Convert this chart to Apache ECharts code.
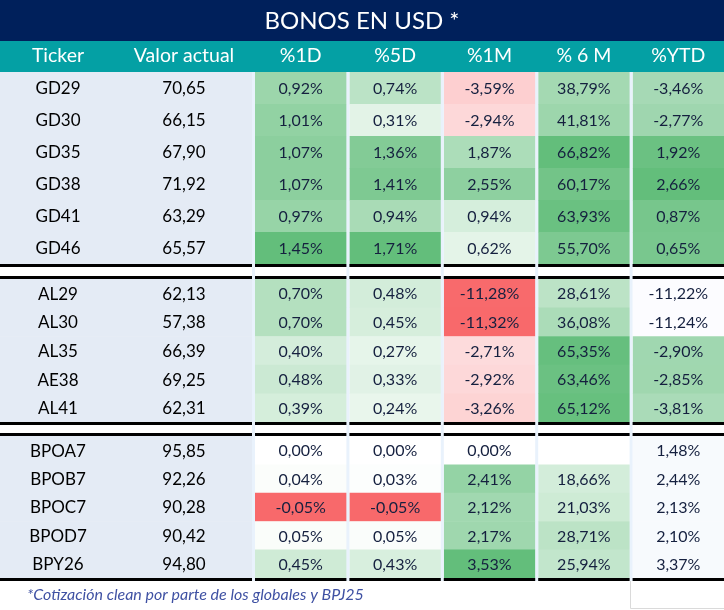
<!DOCTYPE html>
<html>
<head>
<meta charset="utf-8">
<script src="https://cdn.jsdelivr.net/npm/echarts@6/dist/echarts.min.js"></script>
<style>html,body{margin:0;padding:0;background:#fff}#c{width:724px;height:610px}</style>
</head>
<body>
<div id="c"></div>
<script>
// ---- data ----
const titleText = 'BONOS EN USD *';
const footnote = '*Cotización clean por parte de los globales y BPJ25';
const headers = ['Ticker', 'Valor actual', '%1D', '%5D', '%1M', '% 6 M', '%YTD'];
const tickers = ['GD29','GD30','GD35','GD38','GD41','GD46',
                 'AL29','AL30','AL35','AE38','AL41',
                 'BPOA7','BPOB7','BPOC7','BPOD7','BPY26'];
const groupSizes = [6, 5, 5];
const valorActual = [70.65,66.15,67.90,71.92,63.29,65.57, 62.13,57.38,66.39,69.25,62.31, 95.85,92.26,90.28,90.42,94.80];
const pct1D  = [0.92,1.01,1.07,1.07,0.97,1.45, 0.70,0.70,0.40,0.48,0.39, 0.00,0.04,-0.05,0.05,0.45];
const pct5D  = [0.74,0.31,1.36,1.41,0.94,1.71, 0.48,0.45,0.27,0.33,0.24, 0.00,0.03,-0.05,0.05,0.43];
const pct1M  = [-3.59,-2.94,1.87,2.55,0.94,0.62, -11.28,-11.32,-2.71,-2.92,-3.26, 0.00,2.41,2.12,2.17,3.53];
const pct6M  = [38.79,41.81,66.82,60.17,63.93,55.70, 28.61,36.08,65.35,63.46,65.12, null,18.66,21.03,28.71,25.94];
const pctYTD = [-3.46,-2.77,1.92,2.66,0.87,0.65, -11.22,-11.24,-2.90,-2.85,-3.81, 1.48,2.44,2.13,2.10,3.37];

const pctCols = [pct1D, pct5D, pct1M, pct6M, pctYTD];

// ---- layout / style ----
const W = 724;
const FONT = 'Lato';
const NAVY = '#00205B', TEAL = '#04A0A4', PANEL = '#E4EBF5', SEP = '#E9F2FC';
const RED = [248,105,107], GREEN = [99,190,123], WHITE = [255,255,255], XWHITE = [252,252,255];
const groupBoxes = [{top:72,h:192},{top:279,h:143},{top:436,h:142}];
const tickerBox = {left:0, width:116}, valorBox = {left:116, width:136}, pctBox = {left:252, width:472};
const SEPW = 3;

function mix(a, b, t) {
  t = Math.max(0, Math.min(1, t));
  return 'rgb(' + a.map((v, i) => Math.round(v + (b[i] - v) * t)).join(',') + ')';
}
function colMinMax(arr, n) {
  const v = arr.slice(0, n).filter(x => x !== null);
  return [Math.min(...v), Math.max(...v)];
}
const groupStart = [];
groupSizes.reduce((s, n, i) => { groupStart[i] = s; return s + n; }, 0);

function cellColor(c, idx) {
  const v = pctCols[c][idx];
  if (v === null || v === undefined) return '#FFFFFF';
  if (c === 4) {
    const nFmt = groupSizes[0] + groupSizes[1];
    if (idx >= nFmt) return '#F7FAFD';
    const [mn, mx] = colMinMax(pctYTD, nFmt);
    return mix(XWHITE, GREEN, (v - mn) / (mx - mn));
  }
  const [mn, mx] = colMinMax(pctCols[c], tickers.length);
  if (v < 0) return mix(WHITE, RED, v / mn);
  return mix(WHITE, GREEN, mx > 0 ? v / mx : 0);
}
const fmt = (v, pct) => v === null ? '' : v.toFixed(2).replace('.', ',') + (pct ? '%' : '');

function makeRender(kind, g) {
  return function (params, api) {
    const c = api.value(0), r = api.value(1);
    const idx = groupStart[g] + r;
    const p = api.coord([c, r]);
    const sz = api.size([1, 1]);
    const off = kind === 'pct' ? SEPW : 0;
    const x0 = p[0] - sz[0] / 2 + off, w = sz[0] - off;
    const y0 = p[1] - sz[1] / 2, h = sz[1];
    let fill, text, color, fs;
    if (kind === 'ticker') { fill = PANEL; text = tickers[idx]; color = '#000'; fs = 17; }
    else if (kind === 'valor') { fill = PANEL; text = fmt(valorActual[idx], false); color = '#000'; fs = 17; }
    else { fill = cellColor(c, idx); text = fmt(pctCols[c][idx], true); color = '#15203F'; fs = 16; }
    return {
      type: 'group',
      children: [
        { type: 'rect', shape: { x: x0, y: y0, width: w + 0.5, height: h + 0.5 }, style: { fill: fill } },
        { type: 'text', style: { text: text, x: x0 + w / 2, y: p[1] + 1, align: 'center', verticalAlign: 'middle',
            fill: color, fontSize: fs, fontFamily: FONT } }
      ]
    };
  };
}

const grids = [], xAxes = [], yAxes = [], series = [];
groupBoxes.forEach((gb, g) => {
  const rows = tickers.slice(groupStart[g], groupStart[g] + groupSizes[g]);
  [['ticker', tickerBox, [headers[0]]], ['valor', valorBox, [headers[1]]], ['pct', pctBox, headers.slice(2)]]
    .forEach(([kind, box, cats]) => {
      const gi = grids.length;
      grids.push({ left: box.left, width: box.width, top: gb.top, height: gb.h, show: false });
      xAxes.push({
        type: 'category', gridIndex: gi, data: cats, position: 'top', z: 10,
        axisLine: { show: false }, axisTick: { show: false }, splitLine: { show: false },
        axisLabel: g === 0 ? { show: true, color: '#fff', fontSize: 19.5, fontFamily: FONT, margin: 16,
          verticalAlign: 'middle', interval: 0, padding: kind === 'pct' ? [0, 0, 0, SEPW] : 0 } : { show: false }
      });
      yAxes.push({
        type: 'category', gridIndex: gi, data: rows, inverse: true, show: false,
        axisLine: { show: false }, axisTick: { show: false }, splitLine: { show: false }
      });
      const data = [];
      rows.forEach((_, r) => {
        const nc = kind === 'pct' ? cats.length : 1;
        for (let c = 0; c < nc; c++) data.push([c, r]);
      });
      series.push({
        type: 'custom', coordinateSystem: 'cartesian2d', xAxisIndex: gi, yAxisIndex: gi,
        renderItem: makeRender(kind, g), data: data, silent: true, z: 2
      });
    });
});

// decorations
const graphics = [
  { type: 'rect', shape: { x: 0, y: 0, width: W, height: 41 }, style: { fill: NAVY }, z: -10 },
  { type: 'rect', shape: { x: 0, y: 41, width: W, height: 31 }, style: { fill: TEAL }, z: -10 },
  { type: 'text', style: { text: titleText, x: W / 2, y: 21, align: 'center', verticalAlign: 'middle',
      fill: '#fff', fontSize: 24, fontFamily: FONT }, z: 20 }
];
groupBoxes.forEach((gb, g) => {
  graphics.push({ type: 'rect', shape: { x: 0, y: gb.top + gb.h, width: W, height: 3 }, style: { fill: '#000' }, z: 50 });
  if (g > 0) graphics.push({ type: 'rect', shape: { x: 0, y: gb.top - 3, width: W, height: 3 }, style: { fill: '#000' }, z: 50 });
});
const last = groupBoxes[groupBoxes.length - 1];
for (let k = 0; k < 5; k++) {
  const x = pctBox.left + k * pctBox.width / 5;
  graphics.push({ type: 'rect', shape: { x: x, y: 72, width: SEPW, height: last.top + last.h + 3 - 72 },
    style: { fill: SEP }, z: 60 });
}
graphics.push({ type: 'line', shape: { x1: 630.5, y1: last.top + last.h + 3, x2: 630.5, y2: 608.5 }, style: { stroke: '#DADADA', lineWidth: 1 }, z: 5 });
graphics.push({ type: 'line', shape: { x1: 630.5, y1: 608.5, x2: W, y2: 608.5 }, style: { stroke: '#DADADA', lineWidth: 1 }, z: 5 });
graphics.push({ type: 'text', style: { text: footnote, x: 27, y: 595, align: 'left', verticalAlign: 'middle',
  fill: '#3F51A3', fontSize: 16, fontStyle: 'italic', fontFamily: FONT }, z: 20 });

const chart = echarts.init(document.getElementById('c'), null, { renderer: 'canvas' });
chart.setOption({
  animation: false,
  backgroundColor: '#fff',
  grid: grids, xAxis: xAxes, yAxis: yAxes, series: series,
  graphic: { elements: graphics }
});
</script>
</body>
</html>
